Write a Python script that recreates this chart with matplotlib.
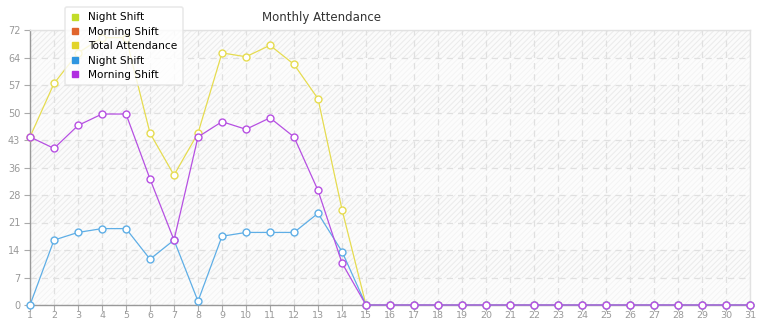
import matplotlib
matplotlib.use('Agg')
import matplotlib.pyplot as plt
from matplotlib.lines import Line2D
from matplotlib.patches import Rectangle

# Attendance per day of the month
days = list(range(1, 32))
morning_shift = [44, 41, 47, 50, 50, 33, 17, 44, 48, 46, 49, 44, 30, 11] + [0] * 17
night_shift = [0, 17, 19, 20, 20, 12, 17, 1, 18, 19, 19, 19, 24, 14] + [0] * 17
total_attendance = [m + n for m, n in zip(morning_shift, night_shift)]

y_ticks = [0, 7.2, 14.4, 21.6, 28.8, 36, 43.2, 50.4, 57.6, 64.8, 72]
y_tick_labels = ['0', '7', '14', '21', '28', '36', '43', '50', '57', '64', '72']

legend_names = ['Night Shift', 'Morning Shift', 'Total Attendance', 'Night Shift', 'Morning Shift']
legend_colors = ['#c2dc28', '#e0642c', '#e2d42a', '#2f96e0', '#b02ee0']

plt.rcParams['hatch.linewidth'] = 0.7
fig = plt.figure(figsize=(7.65, 3.2), dpi=100)
ax = fig.add_axes([30 / 765, 15 / 320, 720 / 765, 275 / 320])

# Hatched plot background with alternating bands.
ax.set_facecolor('#fbfbfb')
ax.add_patch(Rectangle((0, 0), 1, 1, transform=ax.transAxes, facecolor='#fbfbfb',
                       edgecolor='#ebebeb', hatch='//////', linewidth=0, zorder=0))
for i in range(0, len(y_ticks) - 1, 2):
    ax.axhspan(y_ticks[i], y_ticks[i + 1], color='white', alpha=0.45, lw=0, zorder=0.5)

ax.grid(True, color='#e0e0e0', linestyle=(0, (5, 4)), linewidth=0.9, zorder=1)

series = [
    (total_attendance, '#e6dc50'),
    (night_shift, '#5eaee6'),
    (morning_shift, '#b650e2'),
]
for values, color in series:
    ax.plot(days, values, color=color, linewidth=0.9, marker='o', markersize=5.0,
            markerfacecolor='white', markeredgecolor=color, markeredgewidth=1.0,
            clip_on=False, zorder=3)

ax.set_xlim(1, 31)
ax.set_ylim(0, 72)
ax.set_xticks(days)
ax.set_yticks(y_ticks)
ax.set_yticklabels(y_tick_labels)
ax.tick_params(axis='both', colors='#aaaaaa', labelcolor='#999999', labelsize=7, length=4, width=0.8)
ax.tick_params(axis='x', pad=0.5, labelsize=6.8)
ax.tick_params(axis='y', pad=3)

for side in ['left', 'bottom']:
    ax.spines[side].set_color('#999999')
    ax.spines[side].set_linewidth(1.0)
for side in ['top', 'right']:
    ax.spines[side].set_color('#e2e2e2')
    ax.spines[side].set_linewidth(1.0)

fig.text(322 / 765, 1 - 17 / 320, 'Monthly Attendance', ha='center', va='center',
         fontsize=8.5, color='#333333')

handles = [Line2D([], [], marker='s', linestyle='', markersize=4.5, color=c) for c in legend_colors]
leg = fig.legend(handles, legend_names, loc='upper left', bbox_to_anchor=(65 / 765, 1 - 7 / 320),
                 fontsize=7.6, frameon=True, fancybox=True, shadow=False, handlelength=0.8,
                 handletextpad=0.9, labelspacing=0.42, borderpad=0.5, borderaxespad=0)
frame = leg.get_frame()
frame.set_edgecolor('#e4e4e4')
frame.set_linewidth(1.2)
leg.set_zorder(10)

fig.savefig('out.png', dpi=100)
